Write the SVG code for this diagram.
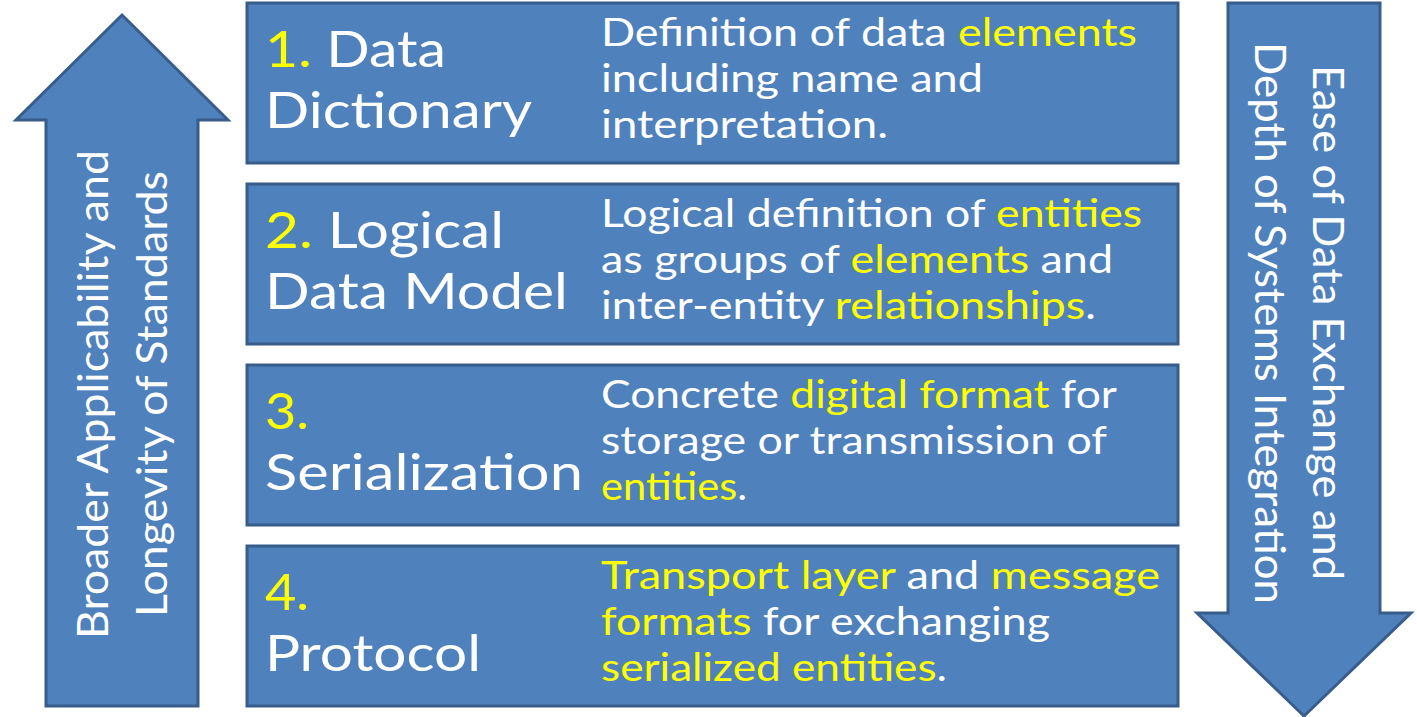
<svg xmlns="http://www.w3.org/2000/svg" width="1417" height="717" viewBox="0 0 1417 717">
<style>
.shape{fill:#4F81BD;stroke:#385D8A;stroke-width:3;stroke-linejoin:miter}
text{font-family:Lato,"Open Sans","Liberation Sans",sans-serif;fill:#FFFFFF}
.t{font-size:50px}
.d{font-size:38px}
.v{font-size:43px}
.y{fill:#FFFF00}
</style>
<rect width="1417" height="717" fill="#FFFFFF"/>
<g id="arrow-up">
<polygon class="shape" points="122,15 228,120 198,120 198,706 46,706 46,120 16,120"/>
<text class="v" transform="rotate(-90 108 639)" x="108" y="639" textLength="489" lengthAdjust="spacingAndGlyphs">Broader Applicability and</text>
<text class="v" transform="rotate(-90 167 617)" x="167" y="617" textLength="446" lengthAdjust="spacingAndGlyphs">Longevity of Standards</text>
</g>
<g id="arrow-down">
<polygon class="shape" points="1228,3 1380,3 1380,613 1411,613 1304,716 1197,613 1228,613"/>
<text class="v" transform="rotate(90 1313 65)" x="1313" y="65" textLength="515" lengthAdjust="spacingAndGlyphs">Ease of Data Exchange and</text>
<text class="v" transform="rotate(90 1255 42)" x="1255" y="42" textLength="562" lengthAdjust="spacingAndGlyphs">Depth of Systems Integration</text>
</g>
<g id="layer-1">
<rect class="shape" x="247" y="3" width="931" height="160"/>
<text class="t" x="265" y="67" textLength="181" lengthAdjust="spacingAndGlyphs"><tspan class="y">1.</tspan> Data</text>
<text class="t" x="265" y="128" textLength="267" lengthAdjust="spacingAndGlyphs">Dictionary</text>
<text class="d" x="601" y="46" textLength="536" lengthAdjust="spacingAndGlyphs">Definition of data <tspan class="y">elements</tspan></text>
<text class="d" x="601" y="92" textLength="382" lengthAdjust="spacingAndGlyphs">including name and</text>
<text class="d" x="601" y="138" textLength="287" lengthAdjust="spacingAndGlyphs">interpretation.</text>
</g>
<g id="layer-2">
<rect class="shape" x="247" y="184" width="931" height="160"/>
<text class="t" x="265" y="248" textLength="239" lengthAdjust="spacingAndGlyphs"><tspan class="y">2.</tspan> Logical</text>
<text class="t" x="265" y="309" textLength="303" lengthAdjust="spacingAndGlyphs">Data Model</text>
<text class="d" x="601" y="227" textLength="541" lengthAdjust="spacingAndGlyphs">Logical definition of <tspan class="y">entities</tspan></text>
<text class="d" x="601" y="273" textLength="512" lengthAdjust="spacingAndGlyphs">as groups of <tspan class="y">elements</tspan> and</text>
<text class="d" x="601" y="319" textLength="495" lengthAdjust="spacingAndGlyphs">inter-entity <tspan class="y">relationships</tspan>.</text>
</g>
<g id="layer-3">
<rect class="shape" x="247" y="365" width="931" height="160"/>
<text class="t y" x="265" y="429" textLength="44" lengthAdjust="spacingAndGlyphs">3.</text>
<text class="t" x="265" y="490" textLength="318" lengthAdjust="spacingAndGlyphs">Serialization</text>
<text class="d" x="601" y="408" textLength="516" lengthAdjust="spacingAndGlyphs">Concrete <tspan class="y">digital format</tspan> for</text>
<text class="d" x="601" y="454" textLength="506" lengthAdjust="spacingAndGlyphs">storage or transmission of</text>
<text class="d" x="601" y="500" textLength="146" lengthAdjust="spacingAndGlyphs"><tspan class="y">entities</tspan>.</text>
</g>
<g id="layer-4">
<rect class="shape" x="247" y="546" width="931" height="160"/>
<text class="t y" x="265" y="610" textLength="44" lengthAdjust="spacingAndGlyphs">4.</text>
<text class="t" x="265" y="671" textLength="216" lengthAdjust="spacingAndGlyphs">Protocol</text>
<text class="d" x="601" y="589" textLength="559" lengthAdjust="spacingAndGlyphs"><tspan class="y">Transport layer</tspan> and <tspan class="y">message</tspan></text>
<text class="d" x="601" y="635" textLength="449" lengthAdjust="spacingAndGlyphs"><tspan class="y">formats</tspan> for exchanging</text>
<text class="d" x="601" y="681" textLength="346" lengthAdjust="spacingAndGlyphs"><tspan class="y">serialized entities</tspan>.</text>
</g>
<g id="connectors"/>
</svg>
